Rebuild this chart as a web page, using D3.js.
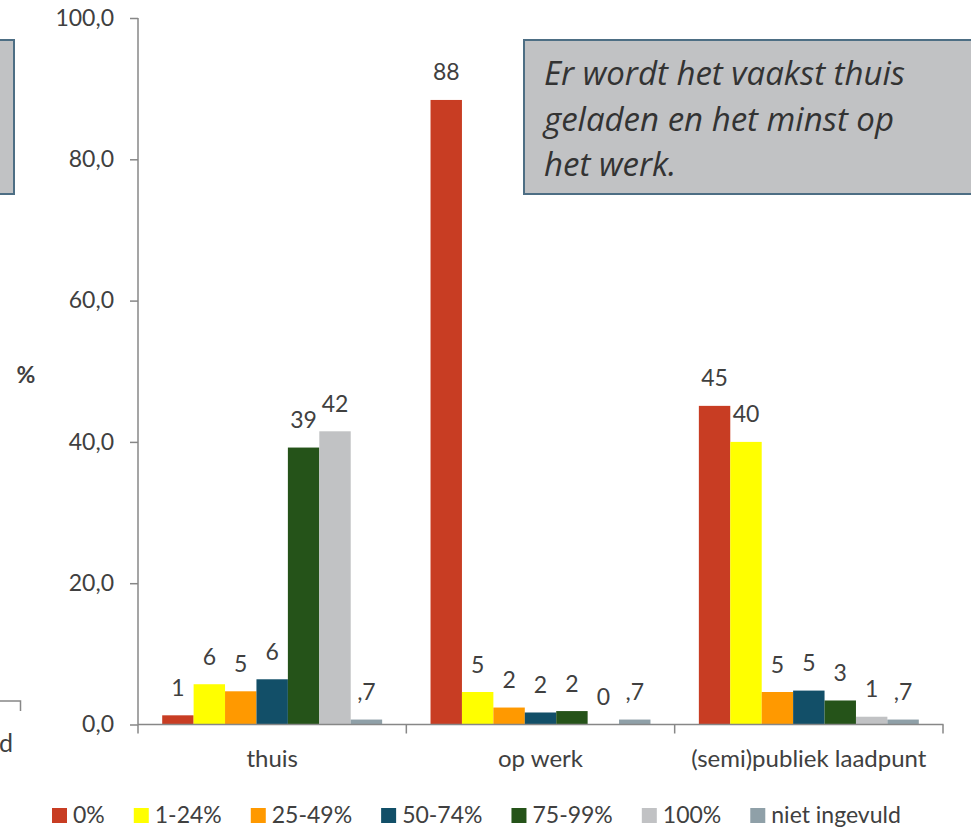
<!DOCTYPE html>
<html>
<head>
<meta charset="utf-8">
<script src="https://cdn.jsdelivr.net/npm/d3@7"></script>
<style>
  body { margin: 0; background: #fff; }
  svg { display: block; font-family: Lato, "Open Sans", sans-serif; }
</style>
</head>
<body>
<div class="wrapper"></div>
<script>
let width = 971;
let height = 830;

// data
let categories = ["thuis", "op werk", "(semi)publiek laadpunt"];
let seriesNames = ["0%", "1-24%", "25-49%", "50-74%", "75-99%", "100%", "niet ingevuld"];
let thuis = [1.3, 5.7, 4.7, 6.4, 39.2, 41.5, 0.7];
let opWerk = [88.4, 4.6, 2.4, 1.7, 1.9, 0, 0.7];
let publiek = [45.1, 40.0, 4.6, 4.8, 3.4, 1.1, 0.7];
let yTicks = [0, 20, 40, 60, 80, 100];
let noteLines = ["Er wordt het vaakst thuis", "geladen en het minst op", "het werk."];

let colors = ["#c83d23", "#ffff00", "#ff9900", "#124f68", "#255319", "#c1c2c4", "#8fa0a8"];
let textColor = "#404040";
let axisColor = "#878787";

let values = [thuis, opWerk, publiek];

let svg = d3.select(".wrapper")
    .append("svg")
    .attr("width", width)
    .attr("height", height);

let y = d3.scaleLinear()
    .domain([0, 100])
    .range([724.5, 18]);

let x = d3.scaleBand()
    .domain(categories)
    .range([138, 943]);

let xInner = d3.scaleBand()
    .domain(seriesNames)
    .range([0, x.bandwidth()])
    .paddingOuter(0.77);

// annotation boxes (left one is cut off by the picture edge)
svg.append("rect")
    .attr("x", -20).attr("y", 40)
    .attr("width", 34).attr("height", 154)
    .attr("fill", "#c1c2c4")
    .attr("stroke", "#4d6e84")
    .attr("stroke-width", 2);

svg.append("rect")
    .attr("x", 524).attr("y", 40)
    .attr("width", 470).attr("height", 154)
    .attr("fill", "#c1c2c4")
    .attr("stroke", "#4d6e84")
    .attr("stroke-width", 2);

svg.append("text")
    .attr("x", 544)
    .attr("y", 85)
    .attr("fill", "#333")
    .attr("font-family", "'Open Sans', sans-serif")
    .attr("font-style", "italic")
    .attr("font-size", 33)
    .selectAll("tspan")
    .data(noteLines)
    .enter()
    .append("tspan")
    .attr("x", 544)
    .attr("dy", function (d, i) {return i === 0 ? 0 : 45.5})
    .text(function (d) {return d});

// remains of a neighbouring chart at the left edge
svg.append("path")
    .attr("d", "M0,701H20.5V711")
    .attr("fill", "none")
    .attr("stroke", axisColor)
    .attr("stroke-width", 1.5);

svg.append("text")
    .attr("x", -1).attr("y", 752)
    .attr("fill", textColor)
    .attr("font-size", 25)
    .text("d");

// y axis
let yAxis = svg.append("g")
    .attr("transform", "translate(138,0)")
    .call(d3.axisLeft(y)
        .tickValues(yTicks)
        .tickSize(8)
        .tickPadding(16)
        .tickFormat(function (d) {return d3.format(".1f")(d).replace(".", ",")}));

yAxis.select(".domain").remove();
yAxis.selectAll("line").attr("stroke", axisColor).attr("stroke-width", 1.5);
yAxis.selectAll("text")
    .attr("fill", textColor)
    .attr("font-size", 23)
    .attr("font-family", "Lato, sans-serif");

svg.append("line")
    .attr("x1", 138).attr("x2", 138)
    .attr("y1", y(100)).attr("y2", y(0))
    .attr("stroke", axisColor)
    .attr("stroke-width", 1.5);

svg.append("text")
    .attr("x", 26).attr("y", 383)
    .attr("text-anchor", "middle")
    .attr("font-weight", "bold")
    .attr("font-size", 23)
    .attr("fill", textColor)
    .text("%");

// bars
let groups = svg.selectAll(".group")
    .data(categories)
    .enter()
    .append("g")
    .classed("group", true)
    .attr("transform", function (d) {return "translate(" + x(d) + ",0)"});

function labelFormat(v) {
    if (v > 0 && v < 1) {return "," + Math.round(v * 10);}
    return d3.format(".0f")(v);
}

groups.selectAll("rect")
    .data(function (d, i) {return values[i].map(function (v, j) {return {name: seriesNames[j], value: v}})})
    .enter()
    .append("rect")
    .attr("x", function (d) {return xInner(d.name)})
    .attr("width", xInner.bandwidth())
    .attr("y", function (d) {return y(d.value)})
    .attr("height", function (d) {return y(0) - y(d.value)})
    .attr("fill", function (d, j) {return colors[j]});

groups.selectAll(".label")
    .data(function (d, i) {return values[i].map(function (v, j) {return {name: seriesNames[j], value: v}})})
    .enter()
    .append("text")
    .classed("label", true)
    .attr("x", function (d) {return xInner(d.name) + xInner.bandwidth() / 2})
    .attr("y", function (d) {return y(d.value) - 19.5})
    .attr("text-anchor", "middle")
    .attr("fill", textColor)
    .attr("font-size", 23)
    .text(function (d) {return labelFormat(d.value)});

// x axis
svg.append("line")
    .attr("x1", 138).attr("x2", 943.5)
    .attr("y1", y(0)).attr("y2", y(0))
    .attr("stroke", axisColor)
    .attr("stroke-width", 1.5);

let bounds = categories.map(function (c) {return x(c)}).concat([x.range()[1]]);

svg.selectAll(".xtick")
    .data(bounds)
    .enter()
    .append("line")
    .classed("xtick", true)
    .attr("x1", function (d) {return d}).attr("x2", function (d) {return d})
    .attr("y1", y(0)).attr("y2", y(0) + 9)
    .attr("stroke", axisColor)
    .attr("stroke-width", 1.5);

svg.selectAll(".xlabel")
    .data(categories)
    .enter()
    .append("text")
    .classed("xlabel", true)
    .attr("x", function (d) {return x(d) + x.bandwidth() / 2})
    .attr("y", 767)
    .attr("text-anchor", "middle")
    .attr("fill", textColor)
    .attr("font-size", 24)
    .text(function (d) {return d});

// legend
let legend = svg.append("g")
    .attr("transform", "translate(52,808)");

let legendX = 0;
seriesNames.forEach(function (name, i) {
    let item = legend.append("g").attr("transform", "translate(" + legendX + ",0)");
    item.append("rect")
        .attr("width", 15).attr("height", 15)
        .attr("fill", colors[i]);
    let t = item.append("text")
        .attr("x", 21).attr("y", 14.5)
        .attr("fill", textColor)
        .attr("font-size", 23)
        .text(name);
    legendX += 21 + t.node().getComputedTextLength() + 29;
});
</script>
</body>
</html>
